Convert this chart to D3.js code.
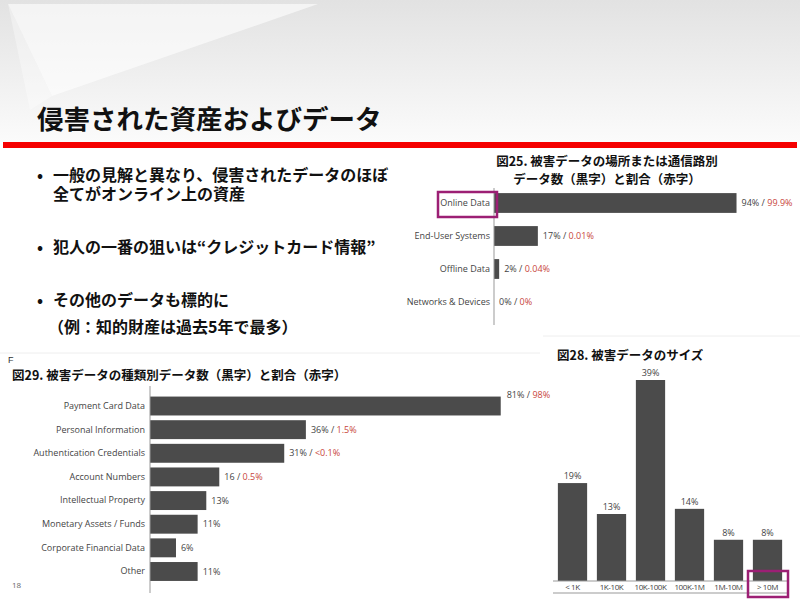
<!DOCTYPE html>
<meta charset="utf-8">
<style>
    body { margin: 0; background: #fff; }
    .jp { font-family: "Noto Sans CJK JP", sans-serif; font-weight: bold; fill: #111; }
    .lbl { font-family: "Open Sans", sans-serif; font-size: 9px; fill: #444; }
    .axis path { stroke: #999; }
    .axis text { font-family: "Open Sans", sans-serif; font-size: 9px; fill: #444; }
</style>
<script src="https://d3js.org/d3.v7.min.js"></script>
<svg width="800" height="600"></svg>
<script>
    // fig 25: location of breached data
    var locCats = ["Online Data", "End-User Systems", "Offline Data", "Networks & Devices"];
    var locPct = [94, 17, 2, 0];
    var locShare = ["99.9%", "0.01%", "0.04%", "0%"];

    // fig 29: type of data
    var typeCats = ["Payment Card Data", "Personal Information", "Authentication Credentials",
        "Account Numbers", "Intellectual Property", "Monetary Assets / Funds",
        "Corporate Financial Data", "Other"];
    var typePct = [81, 36, 31, 16, 13, 11, 6, 11];
    var typeCount = ["81%", "36%", "31%", "16", "13%", "11%", "6%", "11%"];
    var typeShare = ["98%", "1.5%", "<0.1%", "0.5%", null, null, null, null];

    // fig 28: size of breach
    var sizeCats = ["< 1K", "1K-10K", "10K-100K", "100K-1M", "1M-10M", "> 10M"];
    var sizePct = [19, 13, 39, 14, 8, 8];

    var bullets = [
        ["一般の見解と異なり、侵害されたデータのほぼ", "全てがオンライン上の資産"],
        ["犯人の一番の狙いは“クレジットカード情報”"],
        ["その他のデータも標的に", "（例：知的財産は過去5年で最多）"]
    ];

    var barColor = "#4b4b4b", red = "#c8463c", purple = "#9c1f74";

    var svg = d3.select("svg");
    var defs = svg.append("defs");
    var grad = defs.append("linearGradient").attr("id", "topg")
        .attr("x1", 0).attr("y1", 0).attr("x2", 0).attr("y2", 1);
    grad.append("stop").attr("offset", "0%").attr("stop-color", "#e2e2e2");
    grad.append("stop").attr("offset", "100%").attr("stop-color", "#fbfbfb");

    // header background
    svg.append("rect").attr("x", 0).attr("y", 0).attr("width", 800).attr("height", 142)
        .attr("fill", "url(#topg)");
    svg.append("path").attr("d", "M8,4 L318,4 L52,96 Z").attr("fill", "#fff").attr("opacity", 0.6);
    svg.append("path").attr("d", "M8,4 L52,96 L30,110 Z").attr("fill", "#fff").attr("opacity", 0.35);

    svg.append("text").attr("class", "jp").attr("x", 37).attr("y", 129)
        .style("font-size", "26.5px").text("侵害された資産およびデータ");

    svg.append("rect").attr("x", 3).attr("y", 142).attr("width", 794).attr("height", 6).attr("fill", "#f50000");

    // bullets
    var by = [[181, 200], [253], [306, 333]];
    bullets.forEach(function (lines, i) {
        svg.append("text").attr("class", "jp").attr("x", 37).attr("y", by[i][0])
            .style("font-size", "16px").text("•");
        lines.forEach(function (t, j) {
            svg.append("text").attr("class", "jp").attr("x", j == 1 && i == 2 ? 48 : 53).attr("y", by[i][j])
                .style("font-size", "16px").text(t);
        });
    });

    // faint panel edges
    svg.append("line").attr("x1", 0).attr("x2", 540).attr("y1", 353).attr("y2", 353)
        .attr("stroke", "#eee");
    svg.append("line").attr("x1", 543).attr("x2", 800).attr("y1", 336).attr("y2", 336)
        .attr("stroke", "#eee");

    // ---------- fig 25 ----------
    var x25 = d3.scaleLinear().domain([0, 100]).range([494, 752]);
    var y25 = d3.scaleBand().domain(locCats).range([186.5, 318.5]).paddingInner(0.4).paddingOuter(0.2);

    svg.append("text").attr("class", "jp").attr("x", 607).attr("y", 166).attr("text-anchor", "middle")
        .style("font-size", "12.5px").text("図25. 被害データの場所または通信路別");
    svg.append("text").attr("class", "jp").attr("x", 607).attr("y", 184).attr("text-anchor", "middle")
        .style("font-size", "12.5px").text("データ数（黒字）と割合（赤字）");

    svg.append("g").selectAll("rect").data(locCats).enter().append("rect")
        .attr("x", x25(0)).attr("y", function (d) { return y25(d); })
        .attr("width", function (d, i) { return x25(locPct[i]) - x25(0); })
        .attr("height", y25.bandwidth()).attr("fill", barColor);

    var ax25 = svg.append("g").attr("class", "axis").attr("transform", "translate(494,0)")
        .call(d3.axisLeft(y25).tickSize(0).tickPadding(4));
    ax25.select(".domain").attr("d", "M0,188V325");

    var v25 = svg.append("g").selectAll("text").data(locCats).enter().append("text")
        .attr("class", "lbl")
        .attr("x", function (d, i) { return x25(locPct[i]) + 5; })
        .attr("y", function (d) { return y25(d) + y25.bandwidth() / 2; })
        .attr("dy", "0.35em");
    v25.append("tspan").text(function (d, i) { return locPct[i] + "% / "; });
    v25.append("tspan").attr("fill", red).text(function (d, i) { return locShare[i]; });

    svg.append("rect").attr("x", 438).attr("y", 192).attr("width", 59).attr("height", 25)
        .attr("fill", "none").attr("stroke", purple).attr("stroke-width", 2.5);

    // ---------- fig 29 ----------
    svg.append("text").attr("x", 8).attr("y", 363).style("font-family", "Liberation Sans")
        .style("font-size", "9px").attr("fill", "#333").text("F");
    svg.append("text").attr("class", "jp").attr("x", 12).attr("y", 380)
        .style("font-size", "12.5px").text("図29. 被害データの種類別データ数（黒字）と割合（赤字）");

    var x29 = d3.scaleLinear().domain([0, 100]).range([150, 583]);
    var y29 = d3.scaleBand().domain(typeCats).range([394.2, 583.3]).paddingInner(0.2).paddingOuter(0.1);

    svg.append("g").selectAll("rect").data(typeCats).enter().append("rect")
        .attr("x", x29(0)).attr("y", function (d) { return y29(d); })
        .attr("width", function (d, i) { return x29(typePct[i]) - x29(0); })
        .attr("height", y29.bandwidth()).attr("fill", barColor);

    var ax29 = svg.append("g").attr("class", "axis").attr("transform", "translate(150,0)")
        .call(d3.axisLeft(y29).tickSize(0).tickPadding(5));
    ax29.select(".domain").attr("d", "M0,386V593");

    var v29 = svg.append("g").selectAll("text").data(typeCats).enter().append("text")
        .attr("class", "lbl")
        .attr("x", function (d, i) { return x29(typePct[i]) + (i == 0 ? 6 : 5); })
        .attr("y", function (d, i) { return y29(d) + y29.bandwidth() / 2 - (i == 0 ? 11 : 0); })
        .attr("dy", "0.35em");
    v29.append("tspan").text(function (d, i) { return typeCount[i] + (typeShare[i] ? " / " : ""); });
    v29.append("tspan").attr("fill", red).text(function (d, i) { return typeShare[i] || ""; });

    svg.append("text").attr("x", 12).attr("y", 588).style("font-family", "Open Sans")
        .style("font-size", "8px").attr("fill", "#666").text("18");

    // ---------- fig 28 ----------
    svg.append("text").attr("class", "jp").attr("x", 557).attr("y", 360)
        .style("font-size", "12.5px").text("図28. 被害データのサイズ");

    var x28 = d3.scaleBand().domain(sizeCats).range([553, 787]).paddingInner(0.25).paddingOuter(0.125);
    var y28 = d3.scaleLinear().domain([0, 39]).range([581, 380]);

    svg.append("g").selectAll("rect").data(sizeCats).enter().append("rect")
        .attr("x", function (d) { return x28(d); })
        .attr("y", function (d, i) { return y28(sizePct[i]); })
        .attr("width", x28.bandwidth())
        .attr("height", function (d, i) { return y28(0) - y28(sizePct[i]); })
        .attr("fill", barColor);

    svg.append("g").selectAll("text").data(sizeCats).enter().append("text")
        .attr("class", "lbl").attr("text-anchor", "middle")
        .attr("x", function (d) { return x28(d) + x28.bandwidth() / 2; })
        .attr("y", function (d, i) { return y28(sizePct[i]) - 4; })
        .text(function (d, i) { return sizePct[i] + "%"; });

    var ax28 = svg.append("g").attr("class", "axis").attr("transform", "translate(0,581)")
        .call(d3.axisBottom(x28).tickSize(0).tickPadding(3));
    ax28.select(".domain").attr("d", "M553,0H788");
    ax28.selectAll("text").style("font-size", "8px").attr("letter-spacing", "-0.4px");
    svg.append("line").attr("x1", 553).attr("x2", 788).attr("y1", 593).attr("y2", 593)
        .attr("stroke", "#999");

    svg.append("rect").attr("x", 748).attr("y", 571).attr("width", 40).attr("height", 26)
        .attr("fill", "none").attr("stroke", purple).attr("stroke-width", 2.5);
</script>
